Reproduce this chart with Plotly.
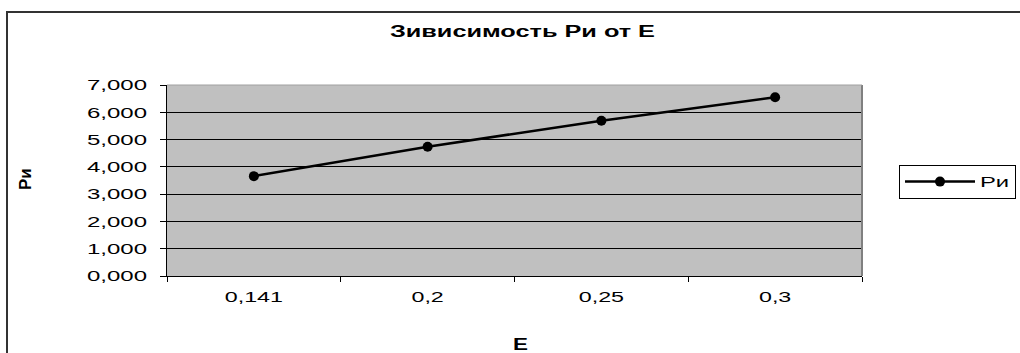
import plotly.graph_objects as go

categories = ["0,141", "0,2", "0,25", "0,3"]
values = [3.66, 4.74, 5.69, 6.55]
series_name = "Ри"
title_text = "Зивисимость Ри от Е"
x_title = "Е"
y_title = "Ри"

W, H = 1020, 353
L, R, T, B = 167, 862, 85, 276
pw, ph = R - L, B - T

def px(x):
    return (x - L) / pw

def py(y):
    return (B - y) / ph

font = "Liberation Sans, Arial, sans-serif"

fig = go.Figure()
fig.add_trace(go.Scatter(
    x=categories, y=values, name=series_name, mode="lines+markers",
    line=dict(color="black", width=2.5),
    marker=dict(color="black", size=10),
))

fig.update_layout(
    width=W, height=H,
    margin=dict(l=L, r=W - R, t=T, b=H - B, pad=0),
    paper_bgcolor="white",
    plot_bgcolor="#c0c0c0",
    separators=", ",
    font=dict(family=font, size=15, color="black"),
    showlegend=True,
    title=dict(text=title_text, x=px(523), xanchor="center",
               y=1 - 31 / H, yanchor="middle",
               font=dict(size=16, weight="bold", family=font)),
    legend=dict(
        x=px(899), y=py(165), xanchor="left", yanchor="top",
        bordercolor="black", borderwidth=1, bgcolor="white",
        font=dict(size=14), itemwidth=70,
    ),
    xaxis=dict(
        type="category", range=[-0.5, 3.5],
        showline=True, linecolor="black", linewidth=1,
        ticks="outside", ticklen=5, tickcolor="black",
        tickson="boundaries", showgrid=False,
        ticklabelstandoff=7,
    ),
    yaxis=dict(
        range=[0, 7], dtick=1, tickformat=".3f",
        showline=True, linecolor="black", linewidth=1,
        ticks="outside", ticklen=6, tickcolor="black",
        showgrid=True, gridcolor="black", gridwidth=1,
        zeroline=False, ticklabelstandoff=10,
    ),
)

# plot-area edges (right / top)
fig.add_shape(type="line", xref="paper", yref="paper", x0=1, x1=1, y0=0, y1=1,
              line=dict(color="#808080", width=2))
fig.add_shape(type="line", xref="paper", yref="paper", x0=0, x1=1, y0=1, y1=1,
              line=dict(color="#a0a0a0", width=1))
# chart outer border
fig.add_shape(type="rect", xref="paper", yref="paper",
              x0=px(7), x1=px(1030), y0=py(12), y1=py(365),
              line=dict(color="#333333", width=2), layer="below")

fig.add_annotation(text=x_title, xref="paper", yref="paper",
                   x=px(520), y=py(344), xanchor="center", yanchor="middle",
                   showarrow=False,
                   font=dict(size=16, weight="bold", family=font))
fig.add_annotation(text=y_title, xref="paper", yref="paper",
                   x=px(25), y=py(179), xanchor="center", yanchor="middle",
                   showarrow=False, textangle=-90,
                   font=dict(size=17, weight="bold", family=font))

post = """
document.body.style.margin='0';
var gd=document.getElementById('{plot_id}');
function st(sel,f){
  gd.querySelectorAll(sel).forEach(function(t){
    if(t.getAttribute('data-st'))return;
    var len=t.getComputedTextLength();
    t.setAttribute('textLength',len*f);
    t.setAttribute('lengthAdjust','spacingAndGlyphs');
    t.setAttribute('data-st',len*(f-1));
  });
}
function apply(){
  try{
    st('.xtick text',1.55);
    st('.ytick text',1.6);
    st('.gtitle',1.58);
    st('.annotation[data-index="0"] .annotation-text',1.4);
    var lt=gd.querySelector('.legendtext');
    if(lt && !lt.getAttribute('data-st')){
      st('.legendtext',1.7);
      var extra=parseFloat(lt.getAttribute('data-st'));
      var bg=gd.querySelector('.legend .bg');
      if(bg){bg.setAttribute('width',parseFloat(bg.getAttribute('width'))+extra);}
      var sb=gd.querySelector('.legend .scrollbox');
      if(sb){
        var cp=sb.getAttribute('clip-path');
        if(cp){
          var m=cp.match(/#([^)'"]+)/);
          if(m){var c=document.getElementById(m[1]);
            if(c){var r=c.querySelector('rect');
              if(r){r.setAttribute('width',parseFloat(r.getAttribute('width')||0)+extra+5);}}}
        }
      }
    }
  }catch(e){}
}
apply();
setTimeout(apply,50);
"""

fig.write_html("out.html", post_script=post, config={"displayModeBar": False})
